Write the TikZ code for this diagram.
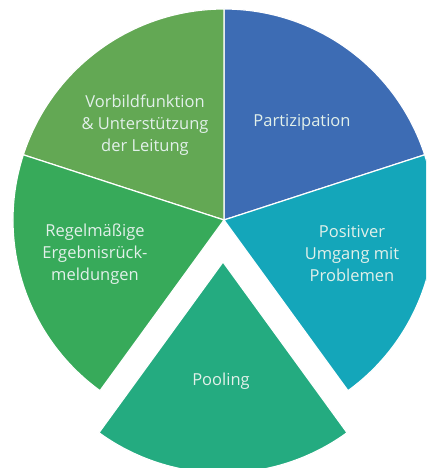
\documentclass[tikz,border=0pt]{standalone}
\usepackage{fontspec}
\setmainfont{Open Sans}
\begin{document}
\begin{tikzpicture}[x=1pt,y=1pt,
  slice/.style={draw=white,line width=1.2pt,line join=round},
  label/.style={text=labeltext,align=center,font=\fontsize{16.5}{22}\selectfont}]
\definecolor{cPart}{RGB}{61,108,180}
\definecolor{cVorb}{RGB}{99,168,84}
\definecolor{cRegel}{RGB}{55,170,90}
\definecolor{cPool}{RGB}{36,171,128}
\definecolor{cPos}{RGB}{20,166,186}
\definecolor{labeltext}{RGB}{226,240,234}
\clip (0,0) rectangle (426,468);
\fill[white] (0,0) rectangle (426,468);
% pie centre, radius and the downward shift of the detached slice
\coordinate (c) at (224,248);
\coordinate (p) at (223,206);
\def\rad{211}
\filldraw[slice,fill=cPart]  (c) -- ++(18:\rad)  arc[start angle=18, end angle=90, radius=\rad] -- cycle;
\filldraw[slice,fill=cVorb]  (c) -- ++(90:\rad)  arc[start angle=90, end angle=162, radius=\rad] -- cycle;
\filldraw[slice,fill=cRegel] (c) -- ++(162:\rad) arc[start angle=162, end angle=234, radius=\rad] -- cycle;
\filldraw[slice,fill=cPos]   (c) -- ++(-54:\rad) arc[start angle=-54, end angle=18, radius=\rad] -- cycle;
\filldraw[slice,fill=cPool]  (p) -- ++(234:\rad) arc[start angle=234, end angle=306, radius=\rad] -- cycle;
% labels
\node[label] (vorb) at (145,343) {Vorbildfunktion\\\& Unterstützung\\der Leitung};
\node[label] (part) at (302,346) {Partizipation};
\node[label] (regel) at (95,214) {Regelmäßige\\Ergebnisrück-\\meldungen};
\node[label] (pos) at (352,214) {Positiver\\Umgang mit\\Problemen};
\node[label] (pool) at (221,87) {Pooling};
\end{tikzpicture}
\end{document}
